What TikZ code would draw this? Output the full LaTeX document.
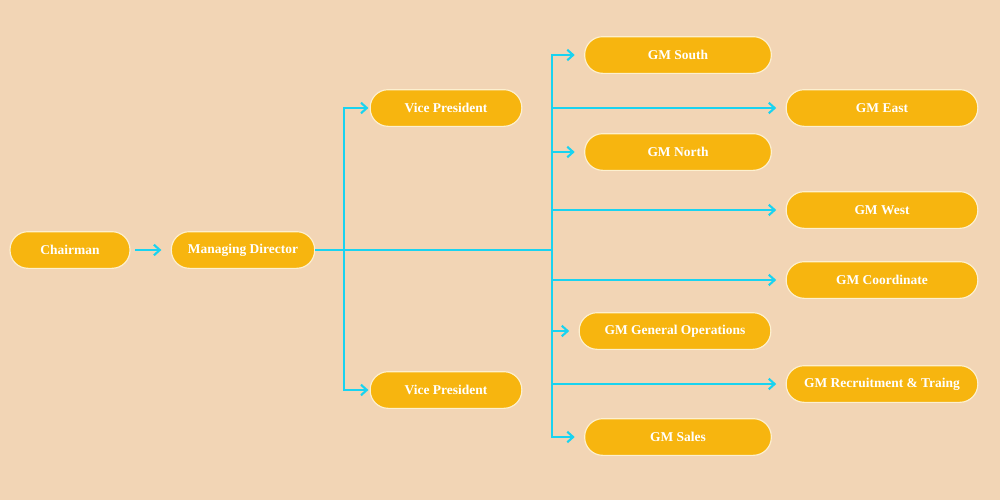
\documentclass[tikz,border=0pt]{standalone}
\usepackage{fontspec}
\setmainfont{Liberation Serif}
\usetikzlibrary{arrows.meta}
\definecolor{bgc}{HTML}{F2D5B5}
\definecolor{boxc}{HTML}{F7B50F}
\definecolor{linec}{HTML}{19D3F0}
\begin{document}
\begin{tikzpicture}[x=0.03cm,y=-0.03cm,
  box/.style={draw=white!80!boxc,line width=1pt,fill=boxc,rounded corners=0.54cm,text=white,font=\fontsize{11.5}{13}\selectfont\bfseries,minimum height=1.1cm,inner sep=0pt,align=center},
  conn/.style={draw=linec,line width=1.8pt},
  arr/.style={conn,-{Straight Barb[length=5pt,width=9pt,line width=1.8pt]}}]
\fill[bgc] (0,0) rectangle (1000,500);
\useasboundingbox (0,0) rectangle (1000,500);
\node[box,minimum width=3.6cm] (ch) at (70,250) {Chairman};
\node[box,minimum width=4.3cm] (md) at (243,250) {Managing Director};
\node[box,minimum width=4.55cm] (vp1) at (446,108) {Vice President};
\node[box,minimum width=4.55cm] (vp2) at (446,390) {Vice President};
\node[box,minimum width=5.6cm] (gs) at (678,55) {GM South};
\node[box,minimum width=5.75cm] (ge) at (882,108) {GM East};
\node[box,minimum width=5.6cm] (gn) at (678,152) {GM North};
\node[box,minimum width=5.75cm] (gw) at (882,210) {GM West};
\node[box,minimum width=5.75cm] (gc) at (882,280) {GM Coordinate};
\node[box,minimum width=5.75cm] (go) at (675,331) {GM General Operations};
\node[box,minimum width=5.75cm] (gr) at (882,384) {GM Recruitment \& Traing};
\node[box,minimum width=5.6cm] (gsa) at (678,437) {GM Sales};
\coordinate (j1) at (344,250);
\coordinate (j2) at (552,250);
\draw[arr] ([xshift=4pt]ch.east) -- ([xshift=-8pt]md.west);
\draw[conn] (md.east) -- (j2);
\draw[conn] (344,108) -- (344,390);
\draw[arr] (j1) |- ([xshift=-1pt]vp1.west);
\draw[arr] (j1) |- ([xshift=-1pt]vp2.west);
\draw[conn] (552,55) -- (552,437);
\foreach \n in {gs,ge,gn,gw,gc,go,gr,gsa}{
  \draw[arr] (j2) |- ([xshift=-8pt]\n.west);
}
\end{tikzpicture}
\end{document}
